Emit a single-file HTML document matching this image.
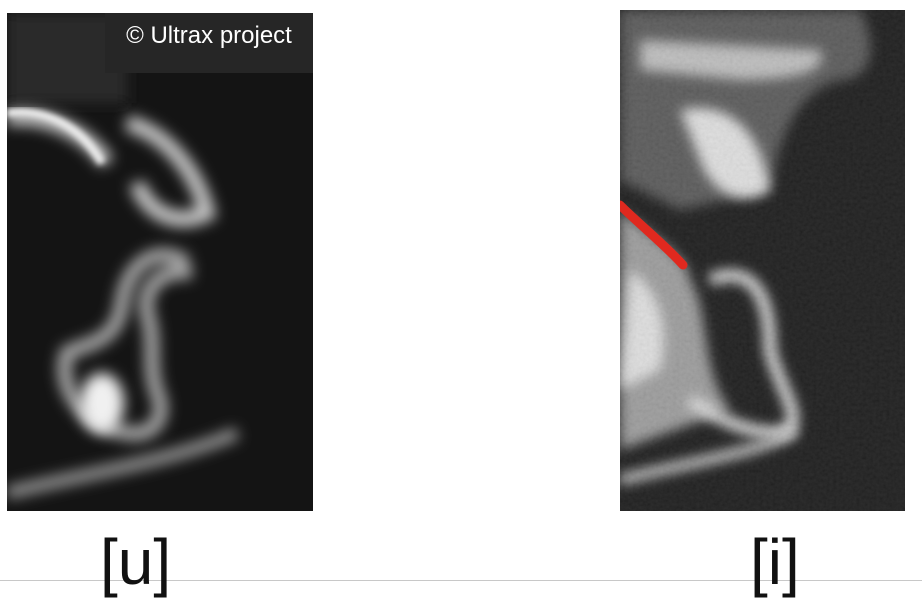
<!DOCTYPE html>
<html><head><meta charset="utf-8"><style>
html,body{margin:0;padding:0;background:#fff;width:922px;height:604px;overflow:hidden;position:relative;font-family:"Liberation Sans",sans-serif}
.lbl{position:absolute;font-size:64px;color:#111;line-height:1}
</style></head><body>
<div style="position:absolute;left:0;top:580px;width:922px;height:1px;background:#c8c8c8"></div>

<svg style="position:absolute;left:7px;top:13px" width="306" height="498" viewBox="0 0 306 498">
<defs><filter id="b1" x="-50%" y="-50%" width="200%" height="200%"><feGaussianBlur stdDeviation="7"/></filter>
<filter id="b2"><feGaussianBlur stdDeviation="3"/></filter></defs>
<rect width="306" height="498" fill="#141414"/>
<rect width="120" height="90" fill="#2c2c2c" filter="url(#b1)"/>
<path d="M0 105 C40 100 80 120 100 150 M120 110 C160 120 190 160 200 200 C170 215 140 200 130 170" stroke="#c8c8c8" stroke-width="16" fill="none" filter="url(#b1)"/>
<path d="M0 100 C40 95 75 115 95 150" stroke="#eee" stroke-width="8" fill="none" filter="url(#b2)"/>
<path d="M180 250 C150 230 120 250 115 290 C110 330 80 330 60 340 C50 370 70 410 120 420 C150 425 160 400 150 380 C140 350 150 330 140 300 C135 270 160 255 185 260" stroke="#aaa" stroke-width="14" fill="none" filter="url(#b1)"/>
<ellipse cx="95" cy="390" rx="22" ry="30" fill="#f0f0f0" filter="url(#b1)"/>
<path d="M0 480 C80 460 160 450 230 420" stroke="#999" stroke-width="12" fill="none" filter="url(#b1)"/>
</svg>
<div style="position:absolute;left:105px;top:13px;width:208px;height:60px;background:#262626;color:#fff;font-size:24px;line-height:46px;text-align:center">© Ultrax project</div>

<svg style="position:absolute;left:620px;top:10px" width="285" height="501" viewBox="0 0 285 501">
<defs><filter id="b3" x="-50%" y="-50%" width="200%" height="200%"><feGaussianBlur stdDeviation="6"/></filter>
<filter id="nz"><feTurbulence type="fractalNoise" baseFrequency="0.3" numOctaves="2" seed="3"/><feColorMatrix type="saturate" values="0"/><feComponentTransfer><feFuncA type="linear" slope="0" intercept="0.12"/></feComponentTransfer></filter></defs>
<rect width="285" height="501" fill="#151515"/>
<path d="M0 0 L240 0 C260 40 250 70 220 70 C180 80 160 120 150 180 L60 200 L0 170 Z" fill="#555" filter="url(#b3)"/>
<path d="M60 100 C110 90 140 120 150 180 C120 200 90 180 80 150 Z" fill="#ddd" filter="url(#b3)"/>
<path d="M20 30 L200 40 C210 60 180 70 120 70 L20 60 Z" fill="#bbb" filter="url(#b3)"/>
<path d="M0 200 C40 230 70 250 70 270 C90 300 80 360 110 400 L0 440 Z" fill="#999" filter="url(#b3)"/>
<path d="M10 260 C40 280 50 320 40 360 L0 380 Z" fill="#ddd" filter="url(#b3)"/>
<path d="M90 270 C140 250 150 300 150 340 C160 380 180 400 170 420 C140 430 100 410 70 390" stroke="#ddd" stroke-width="12" fill="none" filter="url(#b3)"/>
<path d="M0 470 C80 450 150 440 175 420" stroke="#ccc" stroke-width="10" fill="none" filter="url(#b3)"/>
<rect width="285" height="501" filter="url(#nz)"/>
<path d="M0 195 C20 215 45 235 63 255" stroke="#e0291f" stroke-width="9" stroke-linecap="round" fill="none"/>
</svg>

<div class="lbl" style="left:100px;top:530px">[u]</div>
<div class="lbl" style="left:750px;top:530px">[i]</div>
</body></html>
